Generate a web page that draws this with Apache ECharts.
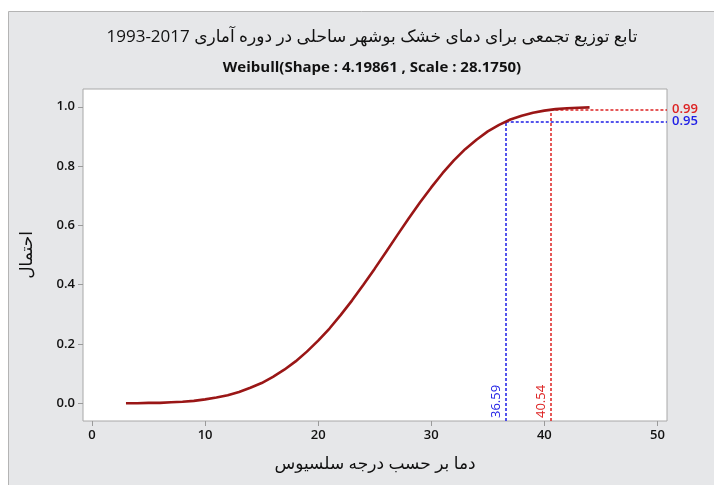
<!DOCTYPE html>
<html>
<head>
<meta charset="utf-8">
<script src="https://cdn.jsdelivr.net/npm/echarts@6/dist/echarts.min.js"></script>
<style>
  html, body { margin: 0; padding: 0; background: #ffffff; }
  #chart { width: 714px; height: 485px; }
</style>
</head>
<body>
<div id="chart"></div>
<script>
// Cumulative distribution of dry temperature (°C) and its probability
const temps = [3, 4, 5, 6, 7, 8, 9, 10, 11, 12, 13, 14, 15, 16, 17, 18, 19, 20, 21, 22, 23,
  24, 25, 26, 27, 28, 29, 30, 31, 32, 33, 34, 35, 36, 37, 38, 39, 40, 41, 42, 43, 44];
const probs = [0.000, 0.000, 0.001, 0.001, 0.003, 0.005, 0.008, 0.013, 0.019, 0.027, 0.038,
  0.052, 0.068, 0.089, 0.113, 0.141, 0.174, 0.211, 0.252, 0.298, 0.347, 0.400, 0.454, 0.510,
  0.567, 0.623, 0.677, 0.728, 0.776, 0.819, 0.857, 0.889, 0.917, 0.939, 0.957, 0.970, 0.980,
  0.987, 0.992, 0.995, 0.997, 0.998];

// Percentile reference lines
const refProbs = [0.95, 0.99];
const refTemps = [36.59, 40.54];
const refColors = ['#1e1ee6', '#dd2222'];

const xTicks = [0, 10, 20, 30, 40, 50];
const yTicks = [0.0, 0.2, 0.4, 0.6, 0.8, 1.0];

// right-to-left embedding for the title, with the year span kept left-to-right inside it
const titleText = '\u202Bتابع توزیع تجمعی برای دمای خشک بوشهر ساحلی در دوره آماری \u202A1993-2017\u202C\u202C';
const subtitleText = 'Weibull(Shape : 4.19861 , Scale : 28.1750)';
const xName = 'دما بر حسب درجه سلسیوس';
const yName = 'احتمال';

const X_MIN = -0.8, X_MAX = 50.85;
const Y_MIN = -0.06, Y_MAX = 1.06;
const FONT = '"Open Sans", "DejaVu Sans", sans-serif';

const markData = [];
refProbs.forEach((p, i) => {
  const t = refTemps[i];
  const c = refColors[i];
  // horizontal: from the curve to the right edge, value written outside
  markData.push([
    { coord: [t, p], lineStyle: { color: c } },
    { coord: [X_MAX, p], lineStyle: { color: c },
      label: { show: true, position: 'end', formatter: p.toFixed(2),
        color: c, fontSize: 13, fontWeight: 600, fontFamily: FONT, distance: 5 } }
  ]);
  // vertical: from the bottom edge up to the curve, value written along it
  markData.push([
    { coord: [t, Y_MIN], lineStyle: { color: c },
      label: { show: true, position: 'insideStartTop', formatter: t.toFixed(2),
        color: c, fontSize: 13, fontWeight: 500, fontFamily: FONT, distance: 3 } },
    { coord: [t, p], lineStyle: { color: c } }
  ]);
});

const chart = echarts.init(document.getElementById('chart'));
chart.setOption({
  backgroundColor: '#ffffff',
  animation: false,
  graphic: [{
    type: 'rect',
    z: -10,
    shape: { x: 8.5, y: 11.5, width: 720, height: 490 },
    style: { fill: '#e6e7e9', stroke: '#b4b4b4', lineWidth: 1 }
  }],
  title: [{
    text: titleText,
    left: 367, top: 24, textAlign: 'center',
    textStyle: { fontFamily: FONT, fontSize: 17, fontWeight: 'normal', color: '#111' }
  }, {
    text: subtitleText,
    left: 367, top: 55, textAlign: 'center',
    textStyle: { fontFamily: FONT, fontSize: 15, fontWeight: 'bold', color: '#111' }
  }],
  grid: {
    left: 83, top: 89, width: 584, height: 332,
    show: true, backgroundColor: '#ffffff', borderColor: '#a8a8a8', borderWidth: 1
  },
  xAxis: {
    type: 'value', min: X_MIN, max: X_MAX,
    name: xName, nameLocation: 'middle', nameGap: 35,
    nameTextStyle: { fontFamily: FONT, fontSize: 17, color: '#111' },
    axisLine: { show: false, onZero: false },
    splitLine: { show: false },
    axisTick: { show: true, length: 5, lineStyle: { color: '#9a9a9a' }, customValues: xTicks },
    axisLabel: { customValues: xTicks, color: '#111', fontSize: 13, fontFamily: FONT,
      fontWeight: 600, margin: 8 }
  },
  yAxis: {
    type: 'value', min: Y_MIN, max: Y_MAX,
    name: yName, nameLocation: 'middle', nameGap: 47, nameRotate: 90,
    nameTextStyle: { fontFamily: FONT, fontSize: 17, color: '#111' },
    axisLine: { show: false, onZero: false },
    splitLine: { show: false },
    axisTick: { show: true, length: 5, lineStyle: { color: '#9a9a9a' }, customValues: yTicks },
    axisLabel: { customValues: yTicks, color: '#111', fontSize: 13, fontFamily: FONT,
      fontWeight: 600, margin: 8, formatter: v => v.toFixed(1) }
  },
  series: [{
    type: 'line',
    data: temps.map((t, i) => [t, probs[i]]),
    showSymbol: false,
    lineStyle: { color: '#9a1616', width: 2.6 },
    z: 3,
    markLine: {
      silent: true,
      symbol: 'none',
      z: 2,
      lineStyle: { type: [3, 2], width: 1.5 },
      label: { show: false },
      data: markData
    }
  }]
});
</script>
</body>
</html>
